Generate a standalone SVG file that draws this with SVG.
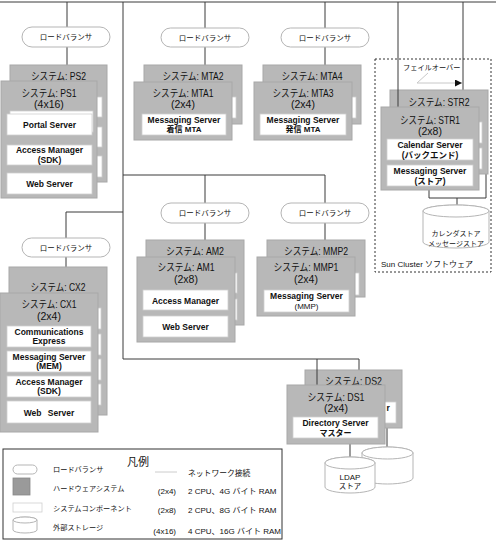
<svg xmlns="http://www.w3.org/2000/svg" width="496" height="541" viewBox="0 0 496 541">
<style>
.sys{fill:#b8b8b8;stroke:#a8a8a8;stroke-width:1}
.comp{fill:#fff;stroke:#cfcfcf;stroke-width:0.8}
.lb{fill:#fff;stroke:#b5b5b5;stroke-width:1}
.ln{stroke:#3a3a3a;stroke-width:1;fill:none}
.disk{fill:#fff;stroke:#b5b5b5;stroke-width:1}
text{font-family:"Liberation Sans","Noto Sans CJK JP",sans-serif;fill:#111}
.ti{font-size:10.5px;text-anchor:middle}
.cb{font-size:8.5px;font-weight:bold;text-anchor:middle}
.cr{font-size:8px;text-anchor:middle}
.lbt{font-size:7.5px;text-anchor:middle}
.lg{font-size:7.2px}
.ds{font-size:7px;text-anchor:middle}
</style>
<defs>
<marker id="ah" markerWidth="8" markerHeight="8" refX="7" refY="3.5" orient="auto" markerUnits="userSpaceOnUse">
<path d="M0,0 L7,3.5 L0,7 Z" fill="#111"/>
</marker>
</defs>

<g id="cluster">
<rect x="375" y="59" width="116" height="213" fill="none" stroke="#333" stroke-width="1" stroke-dasharray="2,2"/>
<text x="381" y="267" style="font-size:8px">Sun Cluster ソフトウェア</text>
</g>

<g id="connectors">
<path class="ln" d="M0,2 H496"/>
<path class="ln" d="M67,2 V27 M67,47 V65"/>
<path class="ln" d="M205,2 V28 M205,47 V65"/>
<path class="ln" d="M325,2 V28 M325,47 V65"/>
<path class="ln" d="M123,2 V359 H359 V370"/>
<path class="ln" d="M123,175 H325 V203 M325,223 V240"/>
<path class="ln" d="M205,175 V203 M205,223 V240"/>
<path class="ln" d="M123,212 H66 V238 M66,257 V267"/>
<path class="ln" d="M463,2 V90"/>
<path class="ln" d="M429,190 V198 H486 V174 M457,198 V205"/>
<path class="ln" d="M350,444 V457 M387,428 V447"/>
<path d="M428,73 L417,83 H462" fill="none" stroke="#c8c8c8" stroke-width="1" marker-end="url(#ah)"/>
</g>

<g id="failover">
<text x="403" y="70" style="font-size:7.2px">フェイルオーバー</text>
</g>

<g id="lb-ps">
<rect class="lb" x="22" y="27" width="88" height="20" rx="10"/>
<text class="lbt" x="66" y="40">ロードバランサ</text>
</g>
<g id="lb-mta12">
<rect class="lb" x="161" y="28" width="88" height="19" rx="9.5"/>
<text class="lbt" x="205" y="40.5">ロードバランサ</text>
</g>
<g id="lb-mta34">
<rect class="lb" x="281" y="28" width="88" height="19" rx="9.5"/>
<text class="lbt" x="325" y="40.5">ロードバランサ</text>
</g>
<g id="lb-am">
<rect class="lb" x="161" y="203" width="88" height="20" rx="10"/>
<text class="lbt" x="205" y="216">ロードバランサ</text>
</g>
<g id="lb-mmp">
<rect class="lb" x="281" y="203" width="88" height="20" rx="10"/>
<text class="lbt" x="325" y="216">ロードバランサ</text>
</g>
<g id="lb-cx">
<rect class="lb" x="22" y="238" width="88" height="19" rx="9.5"/>
<text class="lbt" x="66" y="250.5">ロードバランサ</text>
</g>

<g id="ps2">
<rect class="sys" x="10" y="65" width="97" height="117"/>
<rect class="comp" x="16" y="97" width="86" height="20"/>
<rect class="comp" x="16" y="127" width="86" height="20"/>
<rect class="comp" x="16" y="156" width="86" height="21"/>
<text class="ti" x="58.5" y="80" textLength="55" lengthAdjust="spacingAndGlyphs">システム: PS2</text>
</g>
<g id="ps1">
<rect class="sys" x="1" y="81" width="96" height="117"/>
<rect class="comp" x="10" y="111" width="83" height="21"/>
<rect class="comp" x="7" y="114" width="85" height="21"/>
<rect class="comp" x="7" y="145" width="85" height="20"/>
<rect class="comp" x="7" y="173" width="85" height="21"/>
<text class="ti" x="49" y="97" textLength="55" lengthAdjust="spacingAndGlyphs">システム: PS1</text>
<text class="ti" x="49" y="108">(4x16)</text>
<text class="cb" x="49.5" y="128">Portal Server</text>
<text class="cb" x="49.5" y="152.5">Access Manager</text>
<text class="cb" x="49.5" y="162.5">(SDK)</text>
<text class="cb" x="49.5" y="187">Web Server</text>
</g>

<g id="mta2">
<rect class="sys" x="144" y="65" width="98" height="59"/>
<rect class="comp" x="152" y="97" width="84" height="21"/>
<text class="ti" x="193" y="80" textLength="61" lengthAdjust="spacingAndGlyphs">システム: MTA2</text>
</g>
<g id="mta1">
<rect class="sys" x="134" y="82" width="98" height="58"/>
<rect class="comp" x="142" y="114" width="84" height="21"/>
<text class="ti" x="183" y="97" textLength="61" lengthAdjust="spacingAndGlyphs">システム: MTA1</text>
<text class="ti" x="183" y="108">(2x4)</text>
<text class="cb" x="184" y="122.5">Messaging Server</text>
<text class="cr" x="184" y="132" style="font-weight:bold">着信 MTA</text>
</g>

<g id="mta4">
<rect class="sys" x="263" y="65" width="98" height="59"/>
<rect class="comp" x="270" y="97" width="86" height="21"/>
<text class="ti" x="312" y="80" textLength="61" lengthAdjust="spacingAndGlyphs">システム: MTA4</text>
</g>
<g id="mta3">
<rect class="sys" x="254" y="82" width="98" height="58"/>
<rect class="comp" x="260" y="114" width="86" height="21"/>
<text class="ti" x="303" y="97" textLength="61" lengthAdjust="spacingAndGlyphs">システム: MTA3</text>
<text class="ti" x="303" y="108">(2x4)</text>
<text class="cb" x="303" y="122.5">Messaging Server</text>
<text class="cr" x="303" y="132" style="font-weight:bold">発信 MTA</text>
</g>

<g id="str2">
<rect class="sys" x="390" y="90" width="98" height="84"/>
<rect class="comp" x="396" y="122" width="86" height="21"/>
<rect class="comp" x="396" y="148" width="86" height="21"/>
<text class="ti" x="439" y="106" textLength="61" lengthAdjust="spacingAndGlyphs">システム: STR2</text>
</g>
<path class="ln" d="M398,2 V107"/>
<g id="str1">
<rect class="sys" x="381" y="107" width="98" height="83"/>
<rect class="comp" x="387" y="139" width="86" height="21"/>
<rect class="comp" x="387" y="165" width="86" height="21"/>
<text class="ti" x="430" y="124" textLength="60" lengthAdjust="spacingAndGlyphs">システム: STR1</text>
<text class="ti" x="430" y="135">(2x8)</text>
<text class="cb" x="430" y="148">Calendar Server</text>
<text class="cb" x="430" y="158">(バックエンド)</text>
<text class="cb" x="430" y="174">Messaging Server</text>
<text class="cb" x="430" y="184">(ストア)</text>
</g>
<g id="str-disk">
<path class="disk" d="M423,211 V242 A33,6 0 0 0 489,242 V211 A33,6 0 0 0 423,211 Z"/>
<ellipse class="disk" cx="456" cy="211" rx="33" ry="6"/>
<text class="ds" x="456" y="236">カレンダストア</text>
<text class="ds" x="456" y="246">メッセージストア</text>
</g>

<g id="cx2">
<rect class="sys" x="9" y="267" width="98" height="148"/>
<rect class="comp" x="16" y="308" width="85" height="21"/>
<rect class="comp" x="16" y="334" width="85" height="21"/>
<rect class="comp" x="16" y="359" width="85" height="21"/>
<rect class="comp" x="16" y="384" width="85" height="21"/>
<text class="ti" x="58" y="291" textLength="55" lengthAdjust="spacingAndGlyphs">システム: CX2</text>
</g>
<g id="cx1">
<rect class="sys" x="0" y="293" width="98" height="139"/>
<rect class="comp" x="7" y="326" width="84" height="21"/>
<rect class="comp" x="7" y="351" width="84" height="21"/>
<rect class="comp" x="7" y="376" width="84" height="21"/>
<rect class="comp" x="7" y="401" width="84" height="22"/>
<text class="ti" x="49" y="308" textLength="55" lengthAdjust="spacingAndGlyphs">システム: CX1</text>
<text class="ti" x="49" y="320">(2x4)</text>
<text class="cb" x="49" y="334.5">Communications</text>
<text class="cb" x="49" y="343.5">Express</text>
<text class="cb" x="49" y="359.5">Messaging Server</text>
<text class="cb" x="49" y="368.5">(MEM)</text>
<text class="cb" x="49" y="384.5">Access Manager</text>
<text class="cb" x="49" y="393.5">(SDK)</text>
<text class="cb" x="49" y="416" style="word-spacing:4px">Web Server</text>
</g>

<g id="am2">
<rect class="sys" x="146" y="240" width="98" height="85"/>
<rect class="comp" x="152" y="273" width="85" height="20"/>
<rect class="comp" x="152" y="299" width="85" height="21"/>
<text class="ti" x="195" y="255" textLength="58" lengthAdjust="spacingAndGlyphs">システム: AM2</text>
</g>
<g id="am1">
<rect class="sys" x="137" y="257" width="98" height="85"/>
<rect class="comp" x="143" y="290" width="85" height="20"/>
<rect class="comp" x="143" y="316" width="85" height="21"/>
<text class="ti" x="186" y="271" textLength="57" lengthAdjust="spacingAndGlyphs">システム: AM1</text>
<text class="ti" x="186" y="283">(2x8)</text>
<text class="cb" x="185.5" y="303.5">Access Manager</text>
<text class="cb" x="185.5" y="330">Web Server</text>
</g>

<g id="mmp2">
<rect class="sys" x="267" y="240" width="98" height="57"/>
<rect class="comp" x="274" y="273" width="85" height="22"/>
<text class="ti" x="316" y="255" textLength="64" lengthAdjust="spacingAndGlyphs">システム: MMP2</text>
</g>
<g id="mmp1">
<rect class="sys" x="257" y="257" width="98" height="59"/>
<rect class="comp" x="264" y="290" width="85" height="22"/>
<text class="ti" x="306" y="271" textLength="65" lengthAdjust="spacingAndGlyphs">システム: MMP1</text>
<text class="ti" x="306" y="283">(2x4)</text>
<text class="cb" x="306.5" y="299">Messaging Server</text>
<text class="cr" x="306.5" y="309">(MMP)</text>
</g>

<g id="ds2">
<rect class="sys" x="305" y="370" width="97" height="58"/>
<rect class="comp" x="311" y="402" width="85" height="21"/>
<text class="ti" x="353.5" y="385" textLength="57" lengthAdjust="spacingAndGlyphs">システム: DS2</text>
<text x="386.5" y="411" style="font-size:8.5px;font-weight:bold">r</text>
</g>
<path class="ln" d="M317,359 V385"/>
<g id="ds1">
<rect class="sys" x="287" y="385" width="98" height="59"/>
<rect class="comp" x="293" y="417" width="85" height="21"/>
<text class="ti" x="336" y="401" textLength="57" lengthAdjust="spacingAndGlyphs">システム: DS1</text>
<text class="ti" x="336" y="412">(2x4)</text>
<text class="cb" x="335.5" y="426">Directory Server</text>
<text class="cr" x="335.5" y="436" style="font-weight:bold">マスター</text>
</g>
<g id="ldap-disk2">
<path class="disk" d="M362,453 V478 A25.5,6 0 0 0 413,478 V453 A25.5,6 0 0 0 362,453 Z"/>
<ellipse class="disk" cx="387.5" cy="453" rx="25.5" ry="6"/>
</g>
<g id="ldap-disk1">
<path class="disk" d="M325,463 V487 A25,6 0 0 0 375,487 V463 A25,6 0 0 0 325,463 Z"/>
<ellipse class="disk" cx="350" cy="463" rx="25" ry="6"/>
<text class="cr" x="350" y="480">LDAP</text>
<text class="cr" x="350" y="489" style="font-size:7.5px">ストア</text>
</g>

<g id="legend">
<rect x="3" y="449" width="279" height="90" fill="#fff" stroke="#333" stroke-width="1"/>
<text x="138" y="466" style="font-size:11px;text-anchor:middle">凡例</text>
<rect class="lb" x="13" y="465" width="24" height="9" rx="4.5"/>
<text class="lg" x="53" y="472">ロードバランサ</text>
<rect x="13" y="478" width="17" height="17" fill="#9a9a9a" stroke="#888" stroke-width="0.8"/>
<text class="lg" x="53" y="491">ハードウェアシステム</text>
<rect class="comp" x="13" y="503" width="29" height="9"/>
<text class="lg" x="53" y="511">システムコンポーネント</text>
<path class="disk" d="M13,520 V530 A12,3 0 0 0 37,530 V520 A12,3 0 0 0 13,520 Z"/>
<ellipse class="disk" cx="25" cy="520" rx="12" ry="3"/>
<text class="lg" x="53" y="530">外部ストレージ</text>
<path d="M155,472 H177" stroke="#ccc" stroke-width="1"/>
<text x="188" y="476" style="font-size:7.8px">ネットワーク接続</text>
<text x="176" y="494" style="font-size:8px;text-anchor:end">(2x4)</text>
<text x="188" y="494" style="font-size:8px">2 CPU、4G バイト RAM</text>
<text x="176" y="513" style="font-size:8px;text-anchor:end">(2x8)</text>
<text x="188" y="513" style="font-size:8px">2 CPU、8G バイト RAM</text>
<text x="176" y="534" style="font-size:8px;text-anchor:end">(4x16)</text>
<text x="188" y="534" style="font-size:8px">4 CPU、16G バイト RAM</text>
</g>
</svg>
